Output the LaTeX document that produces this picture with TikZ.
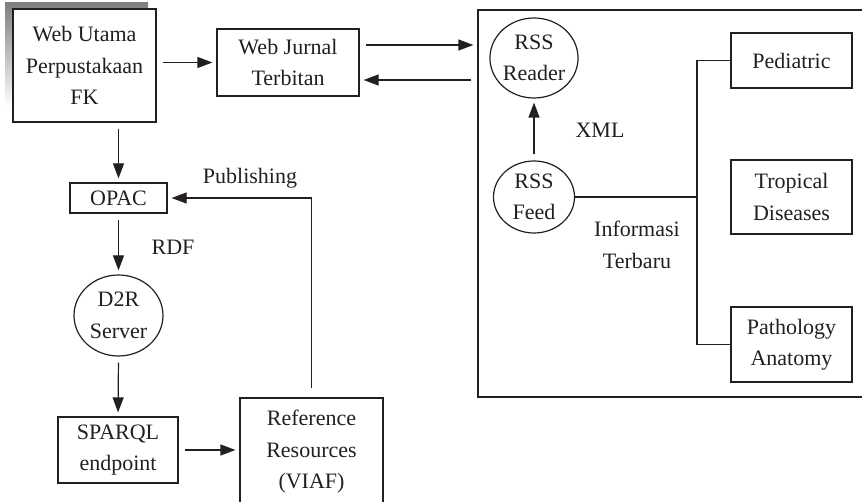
\documentclass[tikz,border=0pt]{standalone}
\usepackage{fontspec}
\setmainfont{Liberation Serif}
\usetikzlibrary{arrows.meta,shapes.geometric,calc}
\definecolor{ink}{RGB}{35,31,32}
\definecolor{shade}{RGB}{218,218,218}
\begin{document}
\begin{tikzpicture}[x=1pt,y=-1pt,
  every node/.style={font=\fontsize{22}{31.5}\selectfont, text=ink, align=center, inner sep=0pt},
  rbox/.style={draw=ink, line width=1.2pt, rectangle},
  ebox/.style={draw=ink, line width=1.2pt, ellipse},
  lbl/.style={},
  arr/.style={draw=ink, line width=1.2pt, -{Triangle[length=15pt,width=11pt]}, shorten >=4pt, shorten <=6pt},
  ln/.style={draw=ink, line width=1.2pt}]
\useasboundingbox (0,0) rectangle (862,502);
\clip (0,0) rectangle (862,502);
% shadow
\fill[shade] (5,3) rectangle (148,107);
% nodes
\node[rbox, fill=white, minimum width=143pt, minimum height=113pt] (wu) at (84.5,65.5) {Web Utama\\Perpustakaan\\FK};
\node[rbox, minimum width=142pt, minimum height=67pt] (wj) at (288,62.5) {Web Jurnal\\Terbitan};
\node[rbox, minimum width=402pt, minimum height=387pt] (big) at (679,203.5) {};
\node[ebox, minimum width=81pt, minimum height=80pt] (rssr) at (534,58) {RSS\\Reader};
\node[ebox, minimum width=81pt, minimum height=72pt] (rssf) at (534,197) {RSS\\Feed};
\node[rbox, minimum width=121pt, minimum height=55pt] (ped) at (791.5,60.5) {Pediatric};
\node[rbox, minimum width=121pt, minimum height=74pt] (trop) at (791.5,197) {Tropical\\Diseases};
\node[rbox, minimum width=121pt, minimum height=75pt] (path) at (791.5,344.5) {Pathology\\Anatomy};
\coordinate (jx) at (697,0);
\node[rbox, minimum width=97pt, minimum height=30pt] (opac) at (118.5,198) {OPAC};
\node[ebox, minimum width=89pt, minimum height=81pt] (d2r) at (118.5,315.5) {D2R\\Server};
\node[rbox, minimum width=120pt, minimum height=66pt] (sparql) at (118,450) {SPARQL\\endpoint};
\node[rbox, minimum width=143pt, minimum height=108pt] (ref) at (311.5,452) {Reference\\Resources\\(VIAF)};
% labels
\node[lbl] (xml) at (600,130) {XML};
\node[lbl] (info) at (637,245) {Informasi\\Terbaru};
\node[lbl] (pub) at (250,178) {Publishing};
\node[lbl] (rdf) at (173,247) {RDF};
% connectors
\draw[arr] (wu.east |- wj.west) -- (wj.west);
\draw[arr] ([yshift=17.5pt]wj.east) -- ([yshift=17.5pt]wj.east -| big.west);
\draw[arr] ([yshift=-17.5pt]wj.east -| big.west) -- ([yshift=-17.5pt]wj.east);
\draw[arr] (rssf.north) -- (rssr.south);
\draw[ln] (rssf.east) -- (rssf.east -| jx);
\draw[ln] (ped.west) -- (ped.west -| jx) -- (path.west -| jx) -- (path.west);
\draw[arr] (wu.south -| opac.north) -- (opac.north);
\draw[arr] (opac.south) -- (d2r.north);
\draw[arr] (d2r.south) -- (sparql.north);
\draw[arr] (sparql.east) -- (sparql.east -| ref.west);
\draw[arr, shorten <=9pt] (ref.north) -- (ref.north |- opac.east) -- (opac.east);
\end{tikzpicture}
\end{document}
